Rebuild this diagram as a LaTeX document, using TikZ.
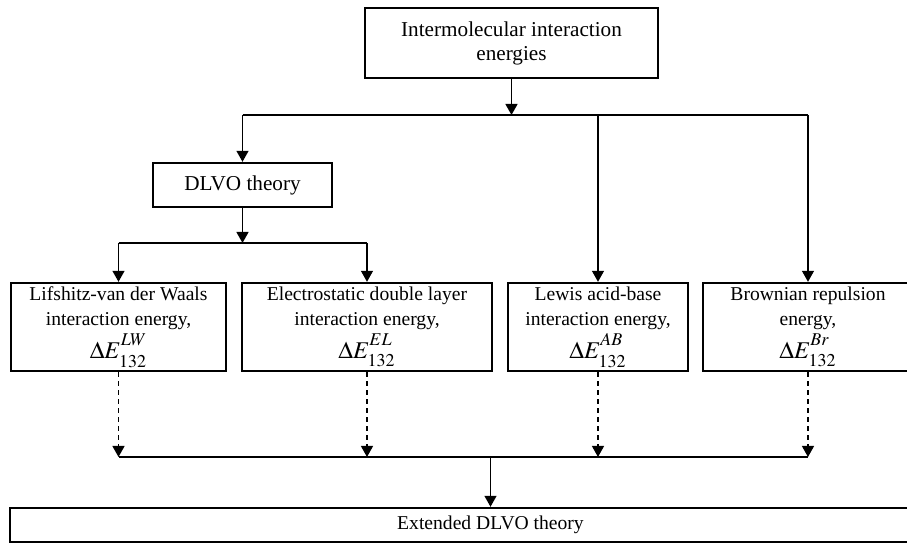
\documentclass[tikz,border=0pt]{standalone}
\usepackage{mathptmx}
\usepackage{fontspec}
\setmainfont{Liberation Serif}
\usepackage{tikz}
\usetikzlibrary{arrows.meta, calc}
\newcommand{\dE}[1]{{\fontsize{12}{12}\selectfont$\Delta E^{\raisebox{2pt}{$\scriptstyle #1$}}_{\raisebox{-1.5pt}{$\scriptstyle 132$}}$}}

\begin{document}
\begin{tikzpicture}[x=0.5pt, y=-0.5pt,
  box/.style={draw, line width=1.2pt, align=center, inner sep=1pt},
  enbox/.style={box, minimum height=44pt, font=\fontsize{9.8}{12.5}\selectfont},
  arr/.style={line width=0.65pt, -{Triangle[length=5.5pt,width=6pt]}},
  dasharr/.style={arr, dash pattern=on 2.5pt off 2pt}]
\useasboundingbox (0,0) rectangle (907,545);
% boxes
\node[box, minimum width=146.5pt, minimum height=35pt, font=\fontsize{10.6}{12}\selectfont] (top) at (511.5,43) {Intermolecular interaction\\energies};
\node[box, minimum width=89.5pt, minimum height=22pt, font=\fontsize{10.6}{12}\selectfont] (dlvo) at (242.5,185) {DLVO theory};
\node[enbox, minimum width=107.5pt] (lw) at (118.5,327) {Lifshitz-van der Waals\\interaction energy,\\[1pt]\dE{LW}};
\node[enbox, minimum width=125pt] (el) at (367,327) {Electrostatic double layer\\interaction energy,\\[1pt]\dE{EL}};
\node[enbox, minimum width=90pt] (ab) at (598,327) {Lewis acid-base\\interaction energy,\\[1pt]\dE{AB}};
\node[enbox, minimum width=105pt] (br) at (808,327) {Brownian repulsion\\energy,\\[1pt]\dE{Br}};
\node[box, minimum width=480.5pt, minimum height=17pt, font=\fontsize{9.8}{12}\selectfont] (ext) at (490.5,525) {Extended DLVO theory};
% bus lines
\coordinate (bus1) at (0,115);
\coordinate (bus2) at (0,243);
\coordinate (bus3) at (0,457);
\draw[arr] (top.south) -- (top.south |- bus1);
\draw[line width=0.65pt] (dlvo.north |- bus1) -- (br.north |- bus1);
\foreach \n in {dlvo,ab,br}
  \draw[arr] (\n.north |- bus1) -- (\n.north);
\draw[arr] (dlvo.south) -- (dlvo.south |- bus2);
\draw[line width=0.65pt] (lw.north |- bus2) -- (el.north |- bus2);
\foreach \n in {lw,el}
  \draw[arr] (\n.north |- bus2) -- (\n.north);
\foreach \n in {lw,el,ab,br}
  \draw[dasharr] (\n.south) -- (\n.south |- bus3);
\draw[line width=0.65pt] (lw.south |- bus3) -- (br.south |- bus3);
\draw[arr] (ext.north |- bus3) -- (ext.north);
\end{tikzpicture}
\end{document}
